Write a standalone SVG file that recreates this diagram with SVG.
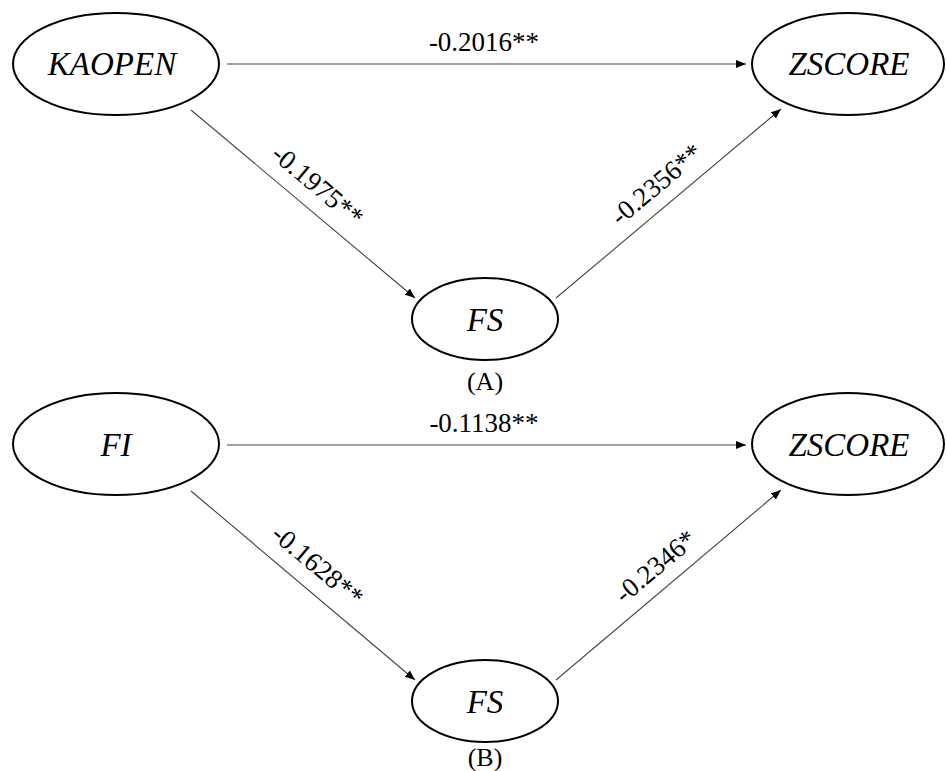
<svg xmlns="http://www.w3.org/2000/svg" width="947" height="771" viewBox="0 0 947 771">
  <style>
    .node { fill: #ffffff; stroke: #000000; stroke-width: 2; }
    .var { font-family: "Liberation Serif", "Times New Roman", "DejaVu Serif", serif; font-style: italic; font-size: 33px; fill: #000; text-anchor: middle; }
    .coef { font-family: "Liberation Serif", "Times New Roman", "DejaVu Serif", serif; font-size: 27px; fill: #000; text-anchor: middle; }
    .cap { font-family: "Liberation Serif", "Times New Roman", "DejaVu Serif", serif; font-size: 26px; fill: #000; text-anchor: middle; }
    .edge { stroke: #444444; stroke-width: 1.1; fill: none; marker-end: url(#arrow); }
  </style>
  <defs>
    <marker id="arrow" viewBox="0 0 10 8" refX="10" refY="4" markerWidth="10" markerHeight="8" markerUnits="userSpaceOnUse" orient="auto">
      <path d="M0,0 L10,4 L0,8 Z" fill="#000"/>
    </marker>
  </defs>

  <rect width="947" height="771" fill="#ffffff"/>

  <!-- connectors -->
  <g id="connectors">
    <!-- panel A -->
    <line class="edge" x1="227" y1="64" x2="746" y2="64"/>
    <line class="edge" x1="191" y1="110" x2="415" y2="298"/>
    <line class="edge" x1="556" y1="298" x2="781" y2="109"/>
    <!-- panel B -->
    <line class="edge" x1="227" y1="445" x2="746" y2="445"/>
    <line class="edge" x1="191" y1="491" x2="415" y2="680"/>
    <line class="edge" x1="556" y1="680" x2="781" y2="490"/>
  </g>

  <!-- path coefficients -->
  <g id="labels">
    <text class="coef" x="484" y="51">-0.2016**</text>
    <text class="coef" transform="translate(317,186) rotate(40)" y="8">-0.1975**</text>
    <text class="coef" transform="translate(657,185) rotate(-40)" y="8">-0.2356**</text>
    <text class="coef" x="484" y="432">-0.1138**</text>
    <text class="coef" transform="translate(317,566) rotate(40)" y="8">-0.1628**</text>
    <text class="coef" transform="translate(656,567) rotate(-40)" y="8">-0.2346*</text>
  </g>

  <!-- panel A nodes -->
  <g id="node-kaopen">
    <ellipse class="node" cx="116" cy="64" rx="103" ry="51"/>
    <text class="var" x="112" y="75">KAOPEN</text>
  </g>
  <g id="node-zscore-a">
    <ellipse class="node" cx="848" cy="64" rx="96" ry="51"/>
    <text class="var" x="849" y="75">ZSCORE</text>
  </g>
  <g id="node-fs-a">
    <ellipse class="node" cx="485" cy="319" rx="73" ry="41"/>
    <text class="var" x="485" y="331">FS</text>
  </g>
  <text class="cap" x="485" y="390">(A)</text>

  <!-- panel B nodes -->
  <g id="node-fi">
    <ellipse class="node" cx="116" cy="444" rx="103" ry="51"/>
    <text class="var" x="116" y="456">FI</text>
  </g>
  <g id="node-zscore-b">
    <ellipse class="node" cx="848" cy="444" rx="96" ry="51"/>
    <text class="var" x="849" y="456">ZSCORE</text>
  </g>
  <g id="node-fs-b">
    <ellipse class="node" cx="485" cy="701" rx="73" ry="41"/>
    <text class="var" x="485" y="713">FS</text>
  </g>
  <text class="cap" x="485" y="766">(B)</text>
</svg>
